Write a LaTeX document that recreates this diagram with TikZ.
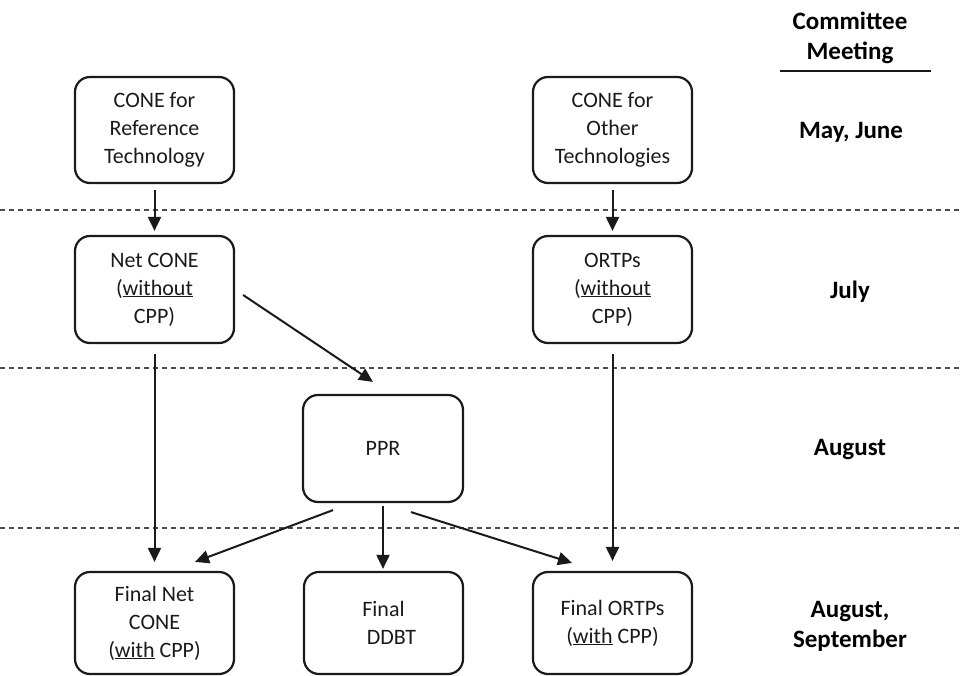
\documentclass[tikz,border=0pt]{standalone}
\usepackage{fontspec}
\setmainfont{Carlito}
\usetikzlibrary{arrows.meta,calc}
\definecolor{ink}{HTML}{1A1A1A}
\definecolor{dashgray}{HTML}{4D4D4D}
\begin{document}
\begin{tikzpicture}[x=1pt,y=-1pt,
  box/.style={draw=ink,line width=2.2pt,rounded corners=15pt,minimum width=159pt,
    minimum height=106pt,align=center,inner sep=0pt,text=ink,
    font=\fontsize{22}{28}\selectfont},
  lbl/.style={align=center,text=black,font=\bfseries\fontsize{25}{30}\selectfont,inner sep=0pt},
  conn/.style={draw=ink,line width=2pt,-{Triangle[length=14pt,width=13pt]}},
  sep/.style={draw=dashgray,line width=1.4pt,dash pattern=on 5pt off 4pt}]
\useasboundingbox (0,0) rectangle (961,676);
% separators
\coordinate (s1l) at (0,210); \coordinate (s1r) at (961,210);
\coordinate (s2l) at (0,368); \coordinate (s2r) at (961,368);
\coordinate (s3l) at (0,528); \coordinate (s3r) at (961,528);
\draw[sep] (s1l) -- (s1r);
\draw[sep] (s2l) -- (s2r);
\draw[sep] (s3l) -- (s3r);
% boxes
\node[box] (b1) at (154.5,130) {CONE for\\Reference\\Technology};
\node[box,minimum height=107pt] (b2) at (154.5,289.5) {Net CONE\\(\underline{without}\\CPP)};
\node[box] (o1) at (612.5,130) {CONE for\\Other\\Technologies};
\node[box,minimum height=107pt] (o2) at (612.5,289.5) {ORTPs\\(\underline{without}\\CPP)};
\node[box,minimum width=160pt,minimum height=107pt] (ppr) at (383,448.5) {PPR};
\node[box,minimum height=102pt] (f1) at (154.5,623) {Final Net\\CONE\\(\underline{with} CPP)};
\node[box,minimum height=102pt] (f2) at (383.5,623) {Final\\\hspace*{16pt}DDBT};
\node[box,minimum height=102pt] (f3) at (612.5,623) {Final ORTPs\\(\underline{with} CPP)};
% right labels
\node[lbl] (hdr) at (850,38) {Committee\\Meeting};
\coordinate (ul) at (780,71); \coordinate (ur) at (931,71);
\draw[draw=ink,line width=2pt] (ul) -- (ur);
\node[lbl] (m1) at (851,132) {May, June};
\node[lbl] (m2) at (850,292) {July};
\node[lbl] (m3) at (850,450) {August};
\node[lbl] (m4) at (850,626) {August,\\September};
% connectors
\draw[conn] ($(b1.south)+(0,6)$) -- ($(b2.north)+(0,-4)$);
\draw[conn] ($(o1.south)+(0,6)$) -- ($(o2.north)+(0,-4)$);
\draw[conn] ($(b2.south)+(0,10)$) -- ($(f1.north)+(0,-9)$);
\draw[conn] ($(o2.south)+(0,10)$) -- ($(f3.north)+(0,-10)$);
\draw[conn] ($(b2.east)+(8,5.5)$) -- ($(ppr.north)+(-10,-12)$);
\draw[conn] ($(ppr.south)+(-50,7)$) -- ($(f1.north)+(40.5,-9)$);
\draw[conn] ($(ppr.south)+(0,3)$) -- ($(f2.north)+(-0.5,-2)$);
\draw[conn] ($(ppr.south)+(28,9)$) -- ($(f3.north)+(-40.5,-8)$);
\end{tikzpicture}
\end{document}
